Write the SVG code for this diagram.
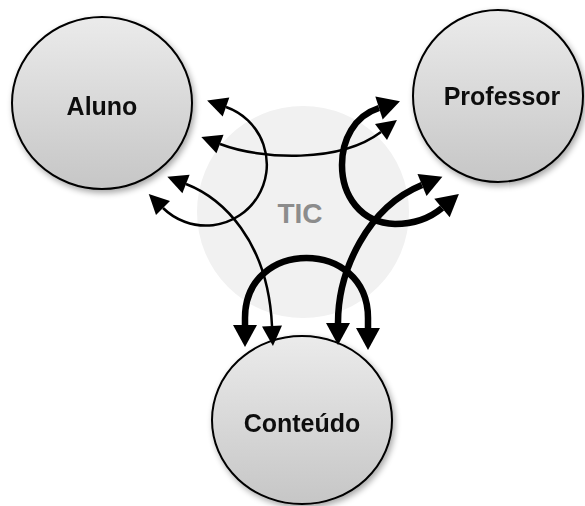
<svg xmlns="http://www.w3.org/2000/svg" width="585" height="506" viewBox="0 0 585 506">
  <defs>
    <linearGradient id="nodeFill" x1="0" y1="0" x2="0" y2="1">
      <stop offset="0" stop-color="#ebebeb"/>
      <stop offset="1" stop-color="#c6c6c6"/>
    </linearGradient>
    <filter id="shadow" x="-20%" y="-20%" width="140%" height="140%">
      <feGaussianBlur in="SourceAlpha" stdDeviation="3"/>
      <feOffset dx="2" dy="3" result="b"/>
      <feComponentTransfer><feFuncA type="linear" slope="0.35"/></feComponentTransfer>
      <feMerge><feMergeNode/><feMergeNode in="SourceGraphic"/></feMerge>
    </filter>
    <marker id="headThin" markerUnits="userSpaceOnUse" viewBox="0 -11 22 22" refX="0" refY="0" markerWidth="22" markerHeight="22" orient="auto-start-reverse" overflow="visible">
      <path d="M0,-10 L20,0 L0,10 z" fill="#000"/>
    </marker>
    <marker id="headThick" markerUnits="userSpaceOnUse" viewBox="0 -13 24 26" refX="0" refY="0" markerWidth="24" markerHeight="26" orient="auto-start-reverse" overflow="visible">
      <path d="M0,-12 L22,0 L0,12 z" fill="#000"/>
    </marker>
  </defs>
  <style>
    .node { fill: url(#nodeFill); stroke: #000; stroke-width: 2; }
    .label { font-family: "Liberation Sans", Arial, sans-serif; font-weight: bold; font-size: 25px; fill: #111; text-anchor: middle; }
    .thin { fill: none; stroke: #000; stroke-width: 2.5; marker-start: url(#headThin); marker-end: url(#headThin); }
    .thick { fill: none; stroke: #000; stroke-width: 6.5; marker-start: url(#headThick); marker-end: url(#headThick); }
  </style>
  <rect width="585" height="506" fill="#fff"/>

  <g id="tic">
    <circle cx="303" cy="212" r="106" fill="#f1f1f1"/>
    <text x="300" y="223" font-family="'Liberation Sans', Arial, sans-serif" font-weight="bold" font-size="28" fill="#8c8c8c" text-anchor="middle">TIC</text>
  </g>

  <g id="aluno" filter="url(#shadow)">
    <ellipse class="node" cx="102" cy="103" rx="90" ry="86"/>
    <text class="label" x="102" y="115">Aluno</text>
  </g>

  <g id="professor" filter="url(#shadow)">
    <ellipse class="node" cx="498" cy="96" rx="85" ry="86"/>
    <text class="label" x="502" y="105">Professor</text>
  </g>

  <g id="conteudo" filter="url(#shadow)">
    <ellipse class="node" cx="302" cy="420" rx="90" ry="84"/>
    <text class="label" x="302" y="432">Conteúdo</text>
  </g>

  <g id="connectors">
    <path class="thin" d="M226,107 A61 61 0 1 1 163,208"/>
    <path class="thin" d="M220,144 C262,160 340,163 381,132"/>
    <path class="thin" d="M186,184 C222,198 268,240 272,326"/>
    <path class="thick" d="M379,108 C354,116 342,140 342,165 C342,195 360,223 395,224 C413,224 430,218 442,208"/>
    <path class="thick" d="M338,323 C338,270 368,207 422,185"/>
    <path class="thick" d="M245,325 L245,318 C245,238 368,238 368,318 L368,328"/>
  </g>
</svg>
